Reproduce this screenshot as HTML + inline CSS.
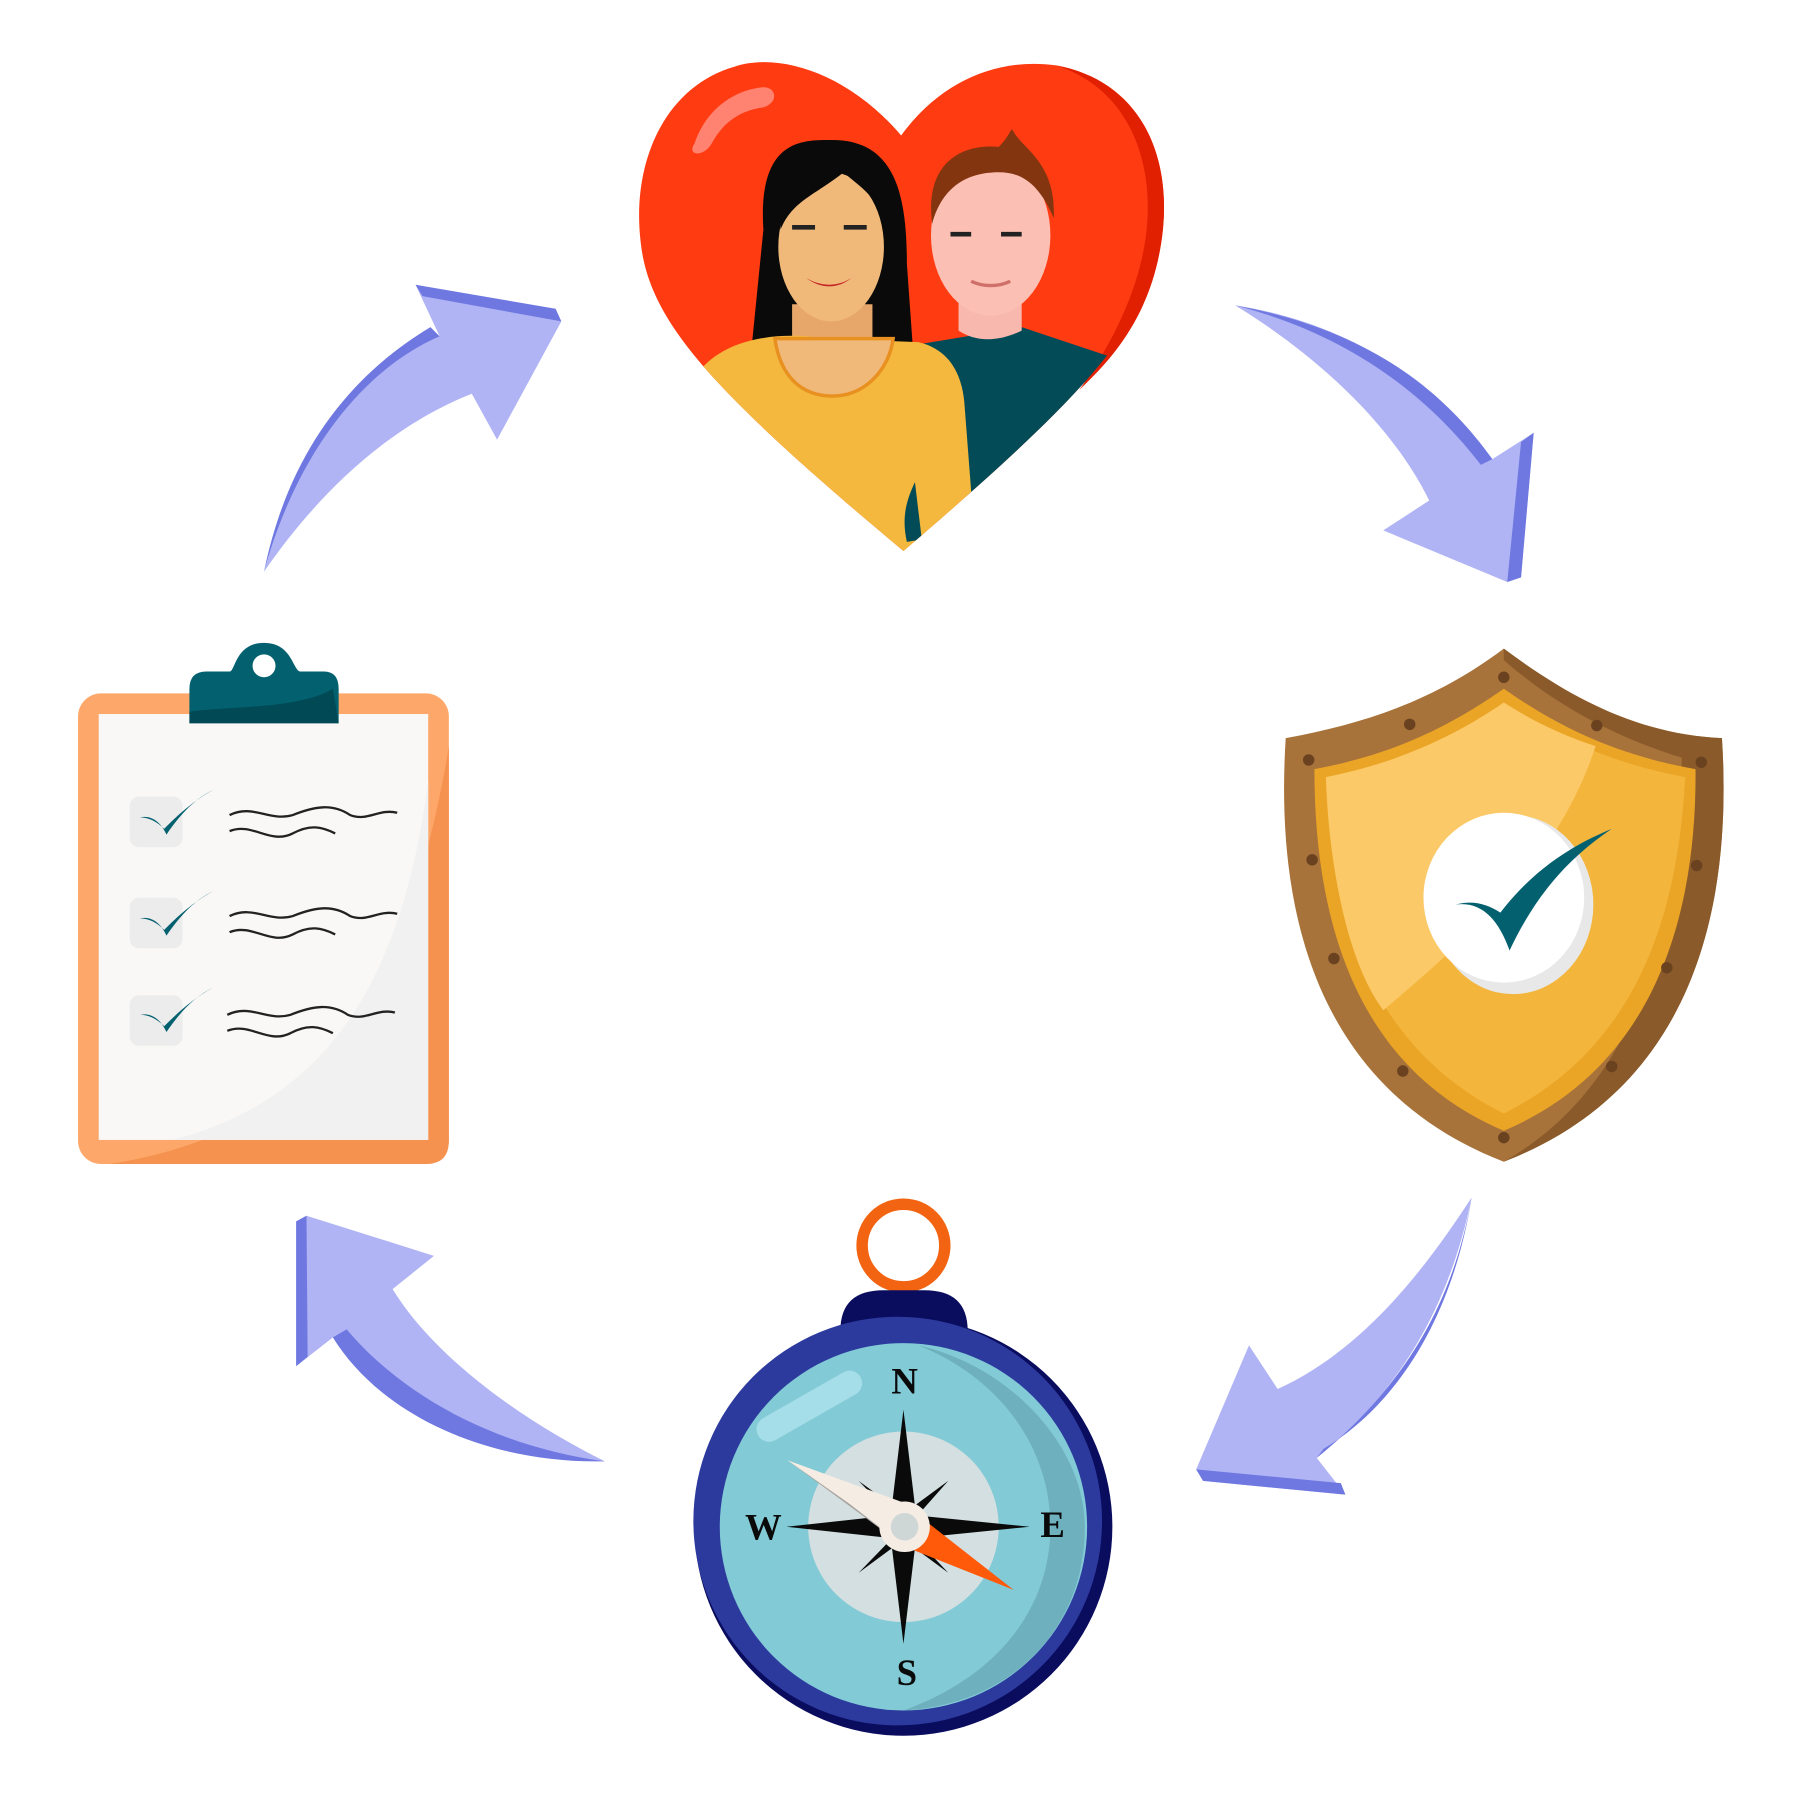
<!DOCTYPE html>
<html><head><meta charset="utf-8"><style>html,body{margin:0;padding:0;background:#fff}svg{display:block}</style></head><body>
<svg width="1800" height="1800" viewBox="0 0 1568 1568" xmlns="http://www.w3.org/2000/svg">
<rect width="1568" height="1568" fill="#fff"/>
<!-- arrows -->
<g>
<path d="M230,498 C260,390 320,320 383,293 L362,248 L489,280 L433,383 L411,343 C330,375 270,440 230,498 Z" fill="#b0b4f5"/>
<path d="M230,498 C260,390 320,320 383,293 L375,285 C300,330 250,400 230,498 Z M362,248 L484,269 L489,280 L368,258 Z" fill="#6f78e0"/>
<path d="M1076,266 C1170,280 1250,330 1300,400 L1336,377 L1325,503 L1313,507 L1205,462 L1245,436 C1210,365 1140,305 1076,266 Z" fill="#b0b4f5"/>
<path d="M1076,266 C1180,285 1250,330 1300,400 L1290,405 C1240,340 1170,290 1076,266 Z M1336,377 L1325,503 L1313,507 L1325,385 Z" fill="#6f78e0"/>
<path d="M1282,1043 C1260,1150 1210,1220 1147,1270 L1172,1302 L1048,1290 L1042,1280 L1088,1172 L1113,1210 C1190,1175 1245,1100 1282,1043 Z" fill="#b0b4f5"/>
<path d="M1282,1043 C1265,1150 1215,1225 1153,1262 L1147,1270 C1220,1210 1265,1140 1282,1043 Z M1042,1280 L1168,1292 L1172,1302 L1048,1290 Z" fill="#6f78e0"/>
<path d="M527,1273 C420,1270 330,1230 290,1165 L258,1190 L258,1064 L267,1059 L378,1094 L342,1123 C380,1185 460,1240 527,1273 Z" fill="#b0b4f5"/>
<path d="M527,1273 C420,1275 330,1230 290,1165 L302,1158 C350,1215 430,1260 527,1273 Z M258,1190 L258,1064 L267,1059 L268,1182 Z" fill="#6f78e0"/>
</g>
<!-- heart -->
<defs><clipPath id="hc"><path d="M785,118 C740,65 680,45 640,58 C580,75 550,140 558,210 C565,280 620,340 787,480 C950,340 1005,280 1013,200 C1020,130 990,70 920,57 C870,50 820,70 785,118 Z"/></clipPath></defs>
<path d="M785,118 C740,65 680,45 640,58 C580,75 550,140 558,210 C565,280 620,340 787,480 C950,340 1005,280 1013,200 C1020,130 990,70 920,57 C870,50 820,70 785,118 Z" fill="#ff3b12"/>
<path d="M920,57 C990,70 1020,130 1013,200 C1005,280 960,320 940,340 C990,270 1010,200 995,140 C985,100 960,70 920,57Z" fill="#e02000"/>
<path d="M605,125 C615,95 640,78 665,76 C678,76 678,92 662,94 C645,97 630,106 620,125 C612,138 598,135 605,125Z" fill="#ff8370"/>
<g clip-path="url(#hc)">
<!-- man -->
<path d="M800,300 L890,285 L965,310 L900,420 L845,440 Z" fill="#034c57"/>
<path d="M835,260 L890,260 L890,288 C870,298 850,298 835,288Z" fill="#f8b8ad"/>
<ellipse cx="863" cy="205" rx="52" ry="70" fill="#fbbfb3"/>
<path d="M812,195 C805,140 840,125 870,128 C880,118 880,112 882,113 C890,130 920,140 918,190 C905,160 890,150 870,150 C840,150 820,165 812,195Z" fill="#82350f"/>
<!-- woman -->
<path d="M665,200 C660,120 700,122 725,122 C780,122 790,170 790,230 L795,300 L655,300Z" fill="#0a0a0a"/>
<path d="M690,265 L760,265 L760,300 L690,300Z" fill="#e8a76a"/>
<ellipse cx="724" cy="215" rx="46" ry="65" fill="#f0b97a"/>
<path d="M680,200 C680,150 700,145 740,150 C760,150 770,170 775,200 C765,170 745,160 735,150 C710,170 690,175 680,200Z" fill="#0a0a0a"/>
<path d="M612,320 C640,290 690,290 720,295 L800,298 C830,305 838,330 840,350 L850,480 L700,480 L612,330Z" fill="#f3b83d"/>
<path d="M675,295 C680,330 700,345 725,345 C755,345 775,320 778,295Z" fill="#f0b97a" stroke="#e89020" stroke-width="3"/>
<path d="M797,420 L803,470 L790,472 C785,450 790,435 797,420Z" fill="#034c57"/>
<path d="M702,242 C715,250 730,250 742,242 C730,252 715,252 702,242Z" fill="#c62828"/>
<path d="M846,245 C856,250 870,250 880,245" stroke="#d0706a" stroke-width="3" fill="none"/>
<path d="M690,198 h20 M735,198 h20 M828,204 h18 M872,204 h18" stroke="#222" stroke-width="4"/>
</g>
<!-- shield -->
<path d="M1310,565 C1250,610 1190,630 1120,643 C1110,800 1150,950 1310,1012 C1470,950 1510,800 1500,643 C1430,640 1370,610 1310,565 Z" fill="#a8733a"/>
<path d="M1310,565 C1370,610 1430,640 1500,643 C1510,800 1470,950 1310,1012 C1400,960 1460,860 1465,660 C1400,640 1350,610 1310,575Z" fill="#8a5a2b"/>
<path d="M1310,600 C1260,635 1210,658 1145,670 C1145,800 1180,930 1310,985 C1440,930 1478,800 1477,670 C1410,658 1360,635 1310,600 Z" fill="#eba526"/>
<path d="M1310,612 C1265,643 1215,665 1155,677 C1158,790 1190,910 1310,970 C1430,910 1462,790 1468,677 C1405,665 1355,643 1310,612 Z" fill="#f3b53c"/>
<path d="M1310,612 C1265,643 1215,665 1155,677 C1158,760 1175,840 1205,880 C1300,800 1360,740 1390,650 C1360,640 1335,628 1310,612Z" fill="#fcc968"/>
<g fill="#6b4220">
<circle cx="1310" cy="590" r="5"/><circle cx="1228" cy="631" r="5"/><circle cx="1391" cy="632" r="5"/><circle cx="1140" cy="662" r="5"/><circle cx="1482" cy="664" r="5"/><circle cx="1143" cy="749" r="5"/><circle cx="1478" cy="754" r="5"/><circle cx="1162" cy="835" r="5"/><circle cx="1452" cy="843" r="5"/><circle cx="1222" cy="933" r="5"/><circle cx="1404" cy="929" r="5"/><circle cx="1310" cy="991" r="5"/>
</g>
<ellipse cx="1318" cy="788" rx="70" ry="78" fill="#e8e8e8"/>
<ellipse cx="1310" cy="782" rx="70" ry="74" fill="#fff"/>
<path d="M1268,788 C1290,785 1305,800 1315,828 C1340,775 1370,745 1404,722 C1360,740 1330,765 1307,795 C1295,787 1282,784 1268,788Z" fill="#03606f"/>
<!-- clipboard -->
<rect x="68" y="604" width="323" height="410" rx="20" fill="#fda86a"/>
<path d="M391,650 L391,994 Q391,1014 371,1014 L95,1014 C250,990 350,900 391,650Z" fill="#f6924f"/>
<rect x="86" y="622" width="287" height="371" fill="#f9f8f7"/>
<path d="M373,680 L373,993 L150,993 C280,960 350,860 373,680Z" fill="#f1f1f1"/>
<path d="M165,600 Q165,585 180,585 L200,585 C205,585 205,560 230,560 C255,560 255,585 262,585 L282,585 Q295,585 295,600 L295,630 L165,630Z" fill="#02606f"/>
<path d="M165,620 C200,615 260,618 290,600 L295,630 L165,630Z" fill="#014a55"/>
<circle cx="230" cy="580" r="10" fill="#fff"/>
<g>
<rect x="113" y="694" width="46" height="44" rx="8" fill="#ececec"/>
<rect x="113" y="782" width="46" height="44" rx="8" fill="#ececec"/>
<rect x="113" y="867" width="46" height="44" rx="8" fill="#ececec"/>
<g fill="#03606f">
<path d="M122,712 C132,710 140,716 145,727 C158,708 170,696 186,688 C168,698 155,710 143,722 C137,716 130,712 122,712Z"/>
<path d="M122,800 C132,798 140,804 145,815 C158,796 170,784 186,776 C168,786 155,798 143,810 C137,804 130,800 122,800Z"/>
<path d="M122,884 C132,882 140,888 145,899 C158,880 170,868 186,860 C168,870 155,882 143,894 C137,888 130,884 122,884Z"/>
</g>
<g stroke="#222" stroke-width="2" fill="none">
<path d="M200,710 C220,700 235,716 255,710 C275,702 290,700 305,710 C320,716 330,704 346,708"/>
<path d="M200,724 C220,716 235,736 255,726 C270,718 280,720 292,726"/>
<path d="M200,798 C220,788 235,804 255,798 C275,790 290,788 305,798 C320,804 330,792 346,796"/>
<path d="M200,812 C220,804 235,824 255,814 C270,806 280,808 292,814"/>
<path d="M198,884 C218,874 233,890 253,884 C273,876 288,874 303,884 C318,890 328,878 344,882"/>
<path d="M198,898 C218,890 233,910 253,900 C268,892 278,894 290,900"/>
</g>
</g>
<!-- compass -->
<circle cx="787" cy="1085" r="36" fill="none" stroke="#f26411" stroke-width="10"/>
<path d="M732,1160 C732,1135 745,1124 770,1124 L805,1124 C830,1124 843,1135 843,1160Z" fill="#0a0c5e"/>
<circle cx="787" cy="1330" r="182" fill="#0a0c5e"/>
<circle cx="782" cy="1325" r="178" fill="#2c3a9e"/>
<circle cx="787" cy="1330" r="160" fill="#82cad6"/>
<path d="M800,1172 C880,1190 945,1260 945,1330 C945,1420 880,1485 787,1490 C870,1460 915,1400 915,1330 C915,1260 870,1200 800,1172Z" fill="#6fb0be"/>
<path d="M670,1245 L740,1205" stroke="#a5dde8" stroke-width="22" stroke-linecap="round"/>
<circle cx="787" cy="1330" r="83" fill="#d3dfe0"/>
<g fill="#0a0a0a">
<path d="M787,1228 L798,1320 L787,1330 L776,1320Z"/>
<path d="M787,1432 L798,1340 L787,1330 L776,1340Z"/>
<path d="M685,1330 L777,1320 L787,1330 L777,1340Z"/>
<path d="M897,1330 L797,1320 L787,1330 L797,1340Z"/>
<path d="M826,1290 L795,1325 L792,1315Z M748,1370 L780,1337 L782,1345Z M826,1370 L795,1337 L792,1345Z M748,1290 L780,1323 L782,1315Z"/>
</g>
<path d="M686,1272 L790,1310 L785,1345Z" fill="#f5ece4"/>
<path d="M686,1272 L740,1310 L785,1345 Z" fill="#555" opacity=".5"/>
<path d="M883,1385 L800,1320 L795,1350Z" fill="#ff5a0a"/>
<circle cx="788" cy="1330" r="22" fill="#f5ece4"/>
<circle cx="788" cy="1330" r="12" fill="#cfd6d6"/>
<g font-family="Liberation Serif, serif" font-weight="bold" font-size="32" fill="#0a0a0a" text-anchor="middle">
<text x="788" y="1214">N</text>
<text x="790" y="1468">S</text>
<text x="665" y="1341">W</text>
<text x="917" y="1339">E</text>
</g>
</svg>
</body></html>
